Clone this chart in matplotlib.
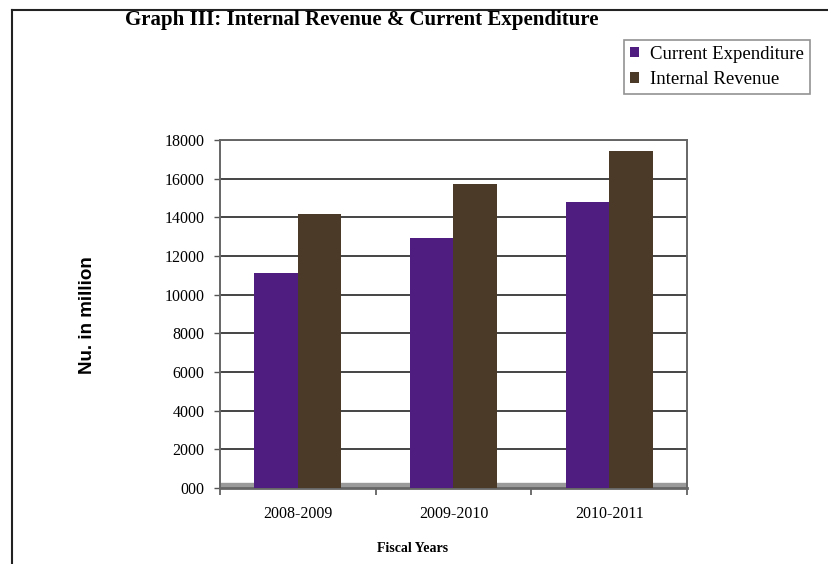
import matplotlib
matplotlib.use("Agg")
import matplotlib.pyplot as plt
from matplotlib.lines import Line2D
import numpy as np

categories = ["2008-2009", "2009-2010", "2010-2011"]
current_expenditure = [11100, 12950, 14800]
internal_revenue = [14150, 15700, 17450]
y_ticks = [0, 2000, 4000, 6000, 8000, 10000, 12000, 14000, 16000, 18000]
y_tick_labels = ["000", "2000", "4000", "6000", "8000", "10000", "12000", "14000", "16000", "18000"]

W, H = 829, 564
fig = plt.figure(figsize=(W / 100, H / 100), dpi=100)
serif = ["Liberation Serif", "DejaVu Serif"]
sans = ["Liberation Sans", "DejaVu Sans"]

ax = fig.add_axes([220 / W, 1 - 488 / H, (687 - 220) / W, (488 - 140) / H])
x = np.arange(len(categories))
bw = 0.28
ax.bar(x - bw / 2, current_expenditure, bw, color="#4f1c80", edgecolor="none",
       label="Current Expenditure", zorder=3)
ax.bar(x + bw / 2, internal_revenue, bw, color="#4b3a28", edgecolor="none",
       label="Internal Revenue", zorder=3)
ax.axhspan(0, 260, color="#9a9a9a", zorder=2)

ax.set_xlim(-0.5, len(categories) - 0.5)
ax.set_ylim(0, 18000)
ax.set_yticks(y_ticks)
ax.set_yticklabels(y_tick_labels, family=serif, fontsize=11.5)
ax.set_xticks(x)
ax.set_xticklabels(categories, family=serif, fontsize=11.5)
ax.set_xticks(np.arange(len(categories) + 1) - 0.5, minor=True)
ax.tick_params(axis="x", which="major", length=0, pad=13)
ax.tick_params(axis="x", which="minor", length=5, width=1.2, color="#555555")
ax.tick_params(axis="y", length=4, width=1, color="#555555", pad=7)
ax.yaxis.grid(True, color="#444444", linewidth=1.4, zorder=1)
ax.set_axisbelow(True)
for s in ax.spines.values():
    s.set_color("#666666")
    s.set_linewidth(1.4)
ax.spines["bottom"].set_linewidth(2)

fig.text(413 / W, 1 - 548 / H, "Fiscal Years", ha="center", va="center",
         family=serif, fontsize=10, fontweight="bold")
fig.text(88 / W, 1 - 315 / H, "Nu. in million", rotation=90, ha="center", va="center",
         family=sans, fontsize=13.5, fontweight="bold")

fig.text(125 / W, 1 - 20 / H, "Graph III: Internal Revenue & Current Expenditure",
         ha="left", va="center", family=serif, fontsize=15, fontweight="bold")

leg = fig.legend(loc="upper left", bbox_to_anchor=(624 / W, 1 - 40 / H),
                 prop={"family": serif, "size": 13.5}, frameon=True, fancybox=False,
                 handlelength=0.5, handleheight=0.5, handletextpad=0.6,
                 borderpad=0.3, labelspacing=0.45, borderaxespad=0)
leg.get_frame().set_edgecolor("#777777")
leg.get_frame().set_linewidth(1.2)

fig.add_artist(Line2D([12 / W, 12 / W], [0, 1 - 10 / H], color="#222222", linewidth=1.5))
fig.add_artist(Line2D([12 / W, 1], [1 - 10 / H, 1 - 10 / H], color="#222222", linewidth=1.5))

fig.savefig("out.png", dpi=100)
